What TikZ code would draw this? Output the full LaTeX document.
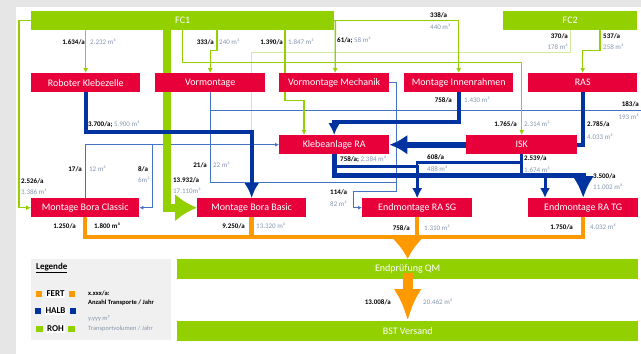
\documentclass[tikz,border=0pt]{standalone}
\usepackage{fontspec}
\setmainfont{Carlito}
\usepackage{tikz}
\usetikzlibrary{calc, positioning, arrows.meta, backgrounds}

\definecolor{rotbox}{HTML}{E8003A}
\definecolor{gruenbox}{HTML}{92D000}
\definecolor{halbblau}{HTML}{0033A0}
\definecolor{duennblau}{HTML}{4472C4}
\definecolor{fertorange}{HTML}{FF9900}
\definecolor{blassgruen}{HTML}{CDEB9A}
\definecolor{volgrau}{HTML}{8497B0}
\definecolor{randgrau}{HTML}{E6E6E6}
\definecolor{legendgrau}{HTML}{F0F0F0}

\tikzset{
    proc/.style={anchor=north west, fill=rotbox, text=white, inner sep=0pt, minimum height=19pt, font=\fontsize{10}{12}\selectfont},
    quelle/.style={proc, fill=gruenbox},
    anz/.style={inner sep=0pt, font=\fontsize{7}{8}\selectfont\bfseries},
    vol/.style={inner sep=0pt, text=volgrau, font=\fontsize{7}{8}\selectfont},
    roh/.style={draw=gruenbox, line width=1.3pt, -{Latex[length=5pt, width=5pt]}},
    rohblass/.style={draw=blassgruen, line width=1pt},
    rohdick/.style={draw=gruenbox, line width=8pt, -{Latex[length=22pt, width=28pt]}},
    halb/.style={draw=halbblau, line width=4pt, -{Latex[length=13pt, width=13pt]}},
    halbthin/.style={draw=duennblau, line width=0.9pt, -{Latex[length=4pt, width=4pt]}},
    fert/.style={draw=fertorange, line width=4.5pt},
    legkey/.style={fill=white, inner sep=1pt, font=\fontsize{9}{10}\selectfont\bfseries},
    legsq/.style={minimum size=6.5pt, inner sep=0pt},
    legtxt/.style={anchor=west, inner sep=0pt, font=\fontsize{6.5}{7}\selectfont},
}

\begin{document}
\begin{tikzpicture}[x=1pt, y=-1pt]
    \useasboundingbox (0,0) rectangle (641,354);

    % Quellen und Stationen
    \node[quelle, minimum width=303pt] (fc1) at (31,11) {FC1};
    \node[quelle, minimum width=134pt] (fc2) at (503,11) {FC2};
    \node[proc, minimum width=109pt] (rk) at (31,73) {Roboter Klebezelle};
    \node[proc, minimum width=110pt] (vm) at (155,73) {Vormontage};
    \node[proc, minimum width=110pt] (vmm) at (279,73) {Vormontage Mechanik};
    \node[proc, minimum width=109pt] (mir) at (404,73) {Montage Innenrahmen};
    \node[proc, minimum width=109pt] (ras) at (528,73) {RAS};
    \node[proc, minimum width=110pt] (kra) at (279,135) {Klebeanlage RA};
    \node[proc, minimum width=111pt] (isk) at (466,135) {ISK};
    \node[proc, minimum width=108pt] (mbc) at (31,198) {Montage Bora Classic};
    \node[proc, minimum width=109pt] (mbb) at (197,198) {Montage Bora Basic};
    \node[proc, minimum width=110pt] (esg) at (362,198) {Endmontage RA SG};
    \node[proc, minimum width=110pt] (etg) at (528,198) {Endmontage RA TG};
    \node[quelle, minimum width=461pt, minimum height=20pt] (qm) at (177,259) {Endprüfung QM};
    \node[quelle, minimum width=461pt, minimum height=20pt] (bst) at (177,321) {BST Versand};
    \coordinate (ausserhalb) at (641,110);
    \coordinate (sammel) at (407.5,237);

    \begin{scope}[on background layer]
        \fill[randgrau] (0,0) rectangle (641,354);
        \fill[white] (16,7) rectangle (641,354);

        \draw[rohblass] ([xshift=67pt]fc2.south west) -- ++(0,22) -| (mbb.north);

        % HALB, klein
        \draw[halbthin] (mbc.north) |- (kra.west);
        \draw[halbthin] ([xshift=-127pt]kra.west) |- (mbc.east);
        \draw[halbthin, -] (ausserhalb) -| (vm.south);
        \draw[halbthin, -] (vm.south) -- ++(0,90) -| ([xshift=7pt]vmm.east);
        \draw[halbthin] (vmm.east) -- ++(7,0) -- ++(0,108.5) -| ([xshift=-9pt]esg.west) -- (esg.west);

        % ROH
        \draw[roh] (fc1.south -| rk.north) -- (rk.north);
        \draw[roh] (fc1.west) -- ++(-12,0) |- (mbc.west);
        \draw[roh] ([xshift=186pt]fc1.south west) -- ++(0,20) -| (vm.north);
        \draw[roh] (fc1.south) -- ++(0,32) -| (isk.north);
        \draw[roh] ([xshift=254pt]fc1.south west) -- ++(0,70) -| ([xshift=25pt]kra.north west);
        \draw[roh] ([xshift=1pt]fc1.east) -- ([xshift=1pt]vmm.north);
        \draw[roh] (fc1.east) -| (mir.north);
        \draw[roh] ([xshift=97pt]fc2.south west) -- ++(0,20) -| (ras.north);
        \draw[rohdick] ([xshift=136pt]fc1.south west) |- (mbb.west);

        % HALB
        \draw[halb, -{Latex[length=15pt, width=15pt]}] (rk.south) -- ++(0,40) -| (mbb.north);
        \draw[halb, -{Latex[length=12pt, width=12pt]}] (mir.south) -- ++(0,30) -| (kra.north);
        \draw[halb, line width=6pt, -{Latex[length=18pt, width=20pt]}] (isk.west) -- (kra.east);
        \draw[halb, -] (ras.south) |- (isk.east);
        \draw[halb, line width=2.5pt, -{Latex[length=10pt, width=10pt]}] (isk.south) -- ++(0,8) -| (esg.north);
        \draw[halb, line width=3pt, -{Latex[length=10pt, width=10pt]}] ([yshift=-12pt]kra.south) -| (esg.north);
        \draw[halb, line width=3pt, -{Latex[length=10pt, width=10pt]}] (isk.south) -- ++(0,21) -| ([xshift=17pt]etg.north west);
        \draw[halb, line width=5pt, -{Latex[length=22pt, width=22pt]}] (kra.south) -- ++(0,21) -| (etg.north);

        % FERT
        \draw[fert] (mbc.south) |- (sammel) -| (etg.south);
        \draw[fert] (mbb.south) -- (mbb.south |- sammel);
        \draw[fert] (esg.south) -- (esg.south |- sammel);
        \draw[fert, line width=8pt, -{Latex[length=20pt, width=30pt]}] (sammel) -- (qm.north);
    \end{scope}

    \draw[fert, line width=10pt, -{Latex[length=32pt, width=28pt]}] ([yshift=6pt]qm.south) -- (bst.north);

    % Mengen ROH
    \node[anz, anchor=east] (n1a) at (85,42) {1.634/a};
    \node[vol, anchor=west] (n1b) at (90,42) {2.232 m³};
    \node[anz, anchor=east] (n2a) at (214,42) {333/a};
    \node[vol, anchor=west] (n2b) at (219,42) {240 m³};
    \node[anz, anchor=east] (n3a) at (283,42) {1.390/a};
    \node[vol, anchor=west] (n3b) at (288,42) {1.847 m³};
    \node[anz, anchor=west] (n4) at (337,40) {61/a; \textcolor{volgrau}{\mdseries 58 m³}};
    \node[anz, anchor=west] (n5a) at (430,15) {338/a};
    \node[vol, anchor=west] (n5b) at (430,27) {440 m³};
    \node[anz, anchor=east] (n6a) at (568,36) {370/a};
    \node[vol, anchor=east] (n6b) at (568,47) {178 m³};
    \node[anz, anchor=west] (n7a) at (603,36) {537/a};
    \node[vol, anchor=west] (n7b) at (603,47) {258 m³};
    \node[anz, anchor=west] (n8a) at (21,181) {2.526/a};
    \node[vol, anchor=west] (n8b) at (21,192) {3.386 m³};
    \node[anz, anchor=west] (n9a) at (173,180) {13.932/a};
    \node[vol, anchor=west] (n9b) at (173,191) {17.110m³};
    \node[anz, anchor=east] (n10a) at (517,124) {1.765/a};
    \node[vol, anchor=west] (n10b) at (524,124) {2.314 m³};

    % Mengen HALB
    \node[anz, anchor=west] (h1) at (88,124) {3.700/a; \textcolor{volgrau}{\mdseries 5.900 m³}};
    \node[anz, anchor=east] (h2a) at (452,100) {758/a};
    \node[vol, anchor=west] (h2b) at (464,100) {1.430 m³};
    \node[anz, anchor=west] (h3a) at (587,124) {2.785/a};
    \node[vol, anchor=west] (h3b) at (587,137) {4.033 m³};
    \node[anz, anchor=west] (h4) at (340,159) {758/a; \textcolor{volgrau}{\mdseries 2.384 m³}};
    \node[anz, anchor=west] (h5a) at (427,157) {608/a};
    \node[vol, anchor=west] (h5b) at (427,169) {488 m³};
    \node[anz, anchor=west] (h6a) at (524,158) {2.539/a};
    \node[vol, anchor=west] (h6b) at (524,170) {1.674 m³};
    \node[anz, anchor=west] (h7a) at (593,176) {3.500/a};
    \node[vol, anchor=west] (h7b) at (593,187) {11.002 m³};
    \node[anz, anchor=east] (h8a) at (82,169) {17/a};
    \node[vol, anchor=west] (h8b) at (89,169) {12 m³};
    \node[anz, anchor=west] (h9a) at (138,169) {8/a};
    \node[vol, anchor=west] (h9b) at (138,180) {6m³};
    \node[anz, anchor=east] (h10a) at (207,165) {21/a};
    \node[vol, anchor=west] (h10b) at (213,165) {22 m³};
    \node[anz, anchor=west] (h11a) at (330,192) {114/a};
    \node[vol, anchor=west] (h11b) at (330,204) {82 m³};
    \node[anz, anchor=east] (h12a) at (639,104) {183/a};
    \node[vol, anchor=east] (h12b) at (639,117) {193 m³};

    % Mengen FERT
    \node[anz, anchor=east] (f1a) at (76,226) {1.250/a};
    \node[anz, anchor=west] (f1b) at (94,226) {1.800 m³};
    \node[anz, anchor=east] (f2a) at (245,226) {9.250/a};
    \node[vol, anchor=west] (f2b) at (256,226) {13.320 m³};
    \node[anz, anchor=east] (f3a) at (410,228) {758/a};
    \node[vol, anchor=west] (f3b) at (424,228) {1.310 m³};
    \node[anz, anchor=east] (f4a) at (573,227) {1.750/a};
    \node[vol, anchor=west] (f4b) at (590,227) {4.032 m³};
    \node[anz, anchor=east] (f5a) at (391,302) {13.008/a};
    \node[vol, anchor=west] (f5b) at (423,302) {20.462 m³};

    % Legende
    \node[anchor=north west, fill=legendgrau, minimum width=140pt, minimum height=81pt, inner sep=0pt] (leg) at (31,259) {};
    \node[anchor=west, inner sep=0pt, font=\fontsize{9}{10}\selectfont\bfseries] (legtitel) at (36,268) {\underline{Legende}};
    \node[legkey] (kfert) at (55.5,294) {FERT};
    \node[legkey] (khalb) at (55.5,311) {HALB};
    \node[legkey] (kroh) at (55.5,329) {ROH};
    \node[legsq, fill=fertorange, left=3pt of kfert] (qf1) {};
    \node[legsq, fill=fertorange, right=3pt of kfert] (qf2) {};
    \node[legsq, fill=halbblau, left=3pt of khalb] (qh1) {};
    \node[legsq, fill=halbblau, right=3pt of khalb] (qh2) {};
    \node[legsq, fill=gruenbox, left=3pt of kroh] (qr1) {};
    \node[legsq, fill=gruenbox, right=3pt of kroh] (qr2) {};
    \node[legtxt, font=\fontsize{6.5}{7}\selectfont\bfseries] (lt1) at (88,293) {x.xxx/a:};
    \node[legtxt, font=\fontsize{6.5}{7}\selectfont\bfseries] (lt2) at (88,303) {Anzahl Transporte / Jahr};
    \node[legtxt, text=volgrau] (lt3) at (88,319) {y.yyy m³};
    \node[legtxt, text=volgrau] (lt4) at (88,329) {Transportvolumen / Jahr};
\end{tikzpicture}
\end{document}
